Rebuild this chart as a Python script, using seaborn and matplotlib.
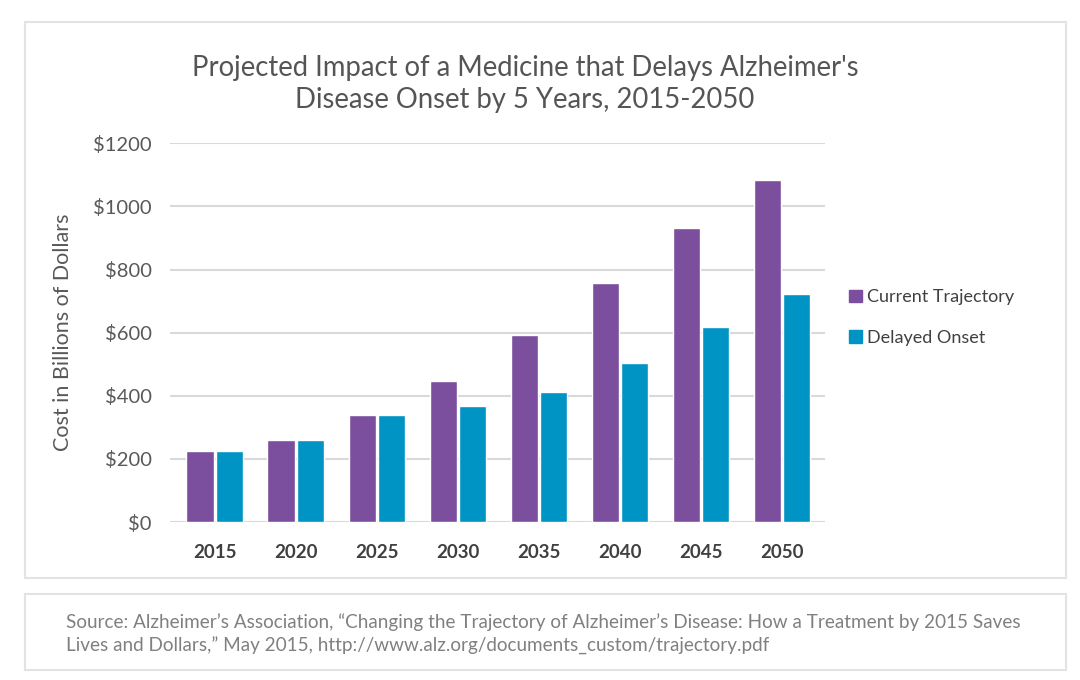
import pandas as pd
import matplotlib.pyplot as plt
import seaborn as sns
from matplotlib.patches import Rectangle

years = ['2015', '2020', '2025', '2030', '2035', '2040', '2045', '2050']
current_trajectory = [226, 261, 338, 447, 593, 758, 931, 1085]
delayed_onset = [226, 261, 338, 369, 411, 505, 617, 722]
series_names = ['Current Trajectory', 'Delayed Onset']
y_ticks = [0, 200, 400, 600, 800, 1000, 1200]

df = pd.DataFrame({
    'year': years * 2,
    'cost': current_trajectory + delayed_onset,
    'series': [series_names[0]] * len(years) + [series_names[1]] * len(years),
})

sns.set_style('white')
plt.rcParams['font.family'] = ['Lato', 'DejaVu Sans']

colors = ['#7b4f9d', '#0094c4']

fig = plt.figure(figsize=(10.8, 6.8), dpi=100)
ax = fig.add_axes([170 / 1080, 1 - 522 / 680, (825 - 170) / 1080, (522 - 143) / 680])

sns.barplot(data=df, x='year', y='cost', hue='series', palette=colors,
            width=0.72, gap=0.07, saturation=1, ax=ax, legend=False, zorder=3)

ax.set_ylim(0, 1201)
ax.set_xlim(-0.55, 7.53)
ax.set_yticks(y_ticks)
ax.set_yticklabels(['$' + str(v) for v in y_ticks], color='#595959', fontsize=14.5)
ax.set_xticks(range(len(years)))
ax.set_xticklabels(years, color='#404040', fontsize=13.5, fontweight='bold')
ax.tick_params(axis='both', length=0)
ax.tick_params(axis='x', pad=16)
ax.tick_params(axis='y', pad=13)
ax.grid(axis='y', color='#d9d9d9', linewidth=1.5, zorder=0)
ax.set_axisbelow(True)
for s in ax.spines.values():
    s.set_visible(False)
ax.set_xlabel('')
ax.set_ylabel('Cost in Billions of Dollars', color='#595959', fontsize=15.5)
ax.yaxis.set_label_coords(-0.148, 0.5)

handles = [Rectangle((0, 0), 1, 1, color=c) for c in colors]
fig.legend(handles, series_names, loc='upper left', bbox_to_anchor=(842 / 1080, 1 - 282 / 680),
           frameon=False, fontsize=13, labelcolor='#404040', handlelength=0.7,
           handleheight=0.7, handletextpad=0.3, labelspacing=1.35, borderaxespad=0)

fig.text(525 / 1080, 1 - 84 / 680,
         "Projected Impact of a Medicine that Delays Alzheimer's\nDisease Onset by 5 Years, 2015-2050",
         ha='center', va='center', fontsize=19.8, color='#555555', linespacing=1.25)

# border boxes
fig.patches.append(Rectangle((25 / 1080, 1 - 578 / 680), 1041 / 1080, 556 / 680,
                             transform=fig.transFigure, fill=False, edgecolor='#e3e3e3', linewidth=1.5))
fig.patches.append(Rectangle((25 / 1080, 1 - 670 / 680), 1041 / 1080, 76 / 680,
                             transform=fig.transFigure, fill=False, edgecolor='#e3e3e3', linewidth=1.5))

fig.text(66 / 1080, 1 - 634 / 680,
         "Source: Alzheimer\u2019s Association, \u201cChanging the Trajectory of Alzheimer\u2019s Disease: How a Treatment by 2015 Saves\n"
         "Lives and Dollars,\u201d May 2015, http://www.alz.org/documents_custom/trajectory.pdf",
         ha='left', va='center', fontsize=13.6, color='#808080', linespacing=1.45)

plt.savefig('out.png', dpi=100)
